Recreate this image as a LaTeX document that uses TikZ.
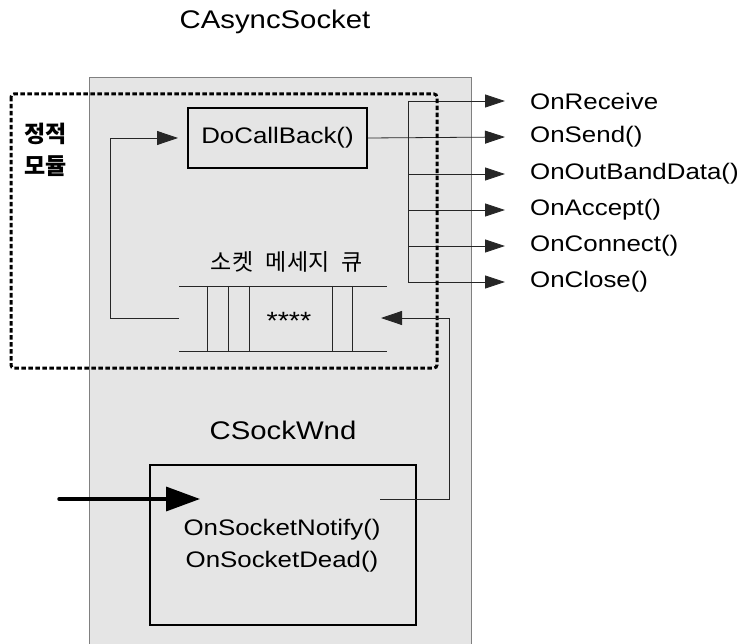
\documentclass[tikz,border=0pt]{standalone}
\usepackage{fontspec}
\setmainfont{Liberation Sans}[FakeStretch=1.15]
\newfontfamily\kofont{Noto Sans CJK KR}
\usetikzlibrary{arrows.meta}
\begin{document}
\begin{tikzpicture}[x=1pt,y=-1pt,
  thin line/.style={draw=black!85,line width=0.8pt},
  fan arrow/.style={thin line,-{Triangle[length=20pt,width=13pt]}},
  lbl/.style={font=\fontsize{22.5}{24}\selectfont,inner sep=0pt},
  big lbl/.style={font=\fontsize{25.5}{28}\selectfont,inner sep=0pt},
  kolbl/.style={font=\kofont\fontsize{23}{26}\selectfont,inner sep=0pt}]
\useasboundingbox (0,0) rectangle (744,644);
% panel
\path[fill=black!10,draw=black!50,line width=1pt] (89,650) -- (89,78) -- (471,78) -- (471,650);
\node[big lbl] (title) at (275,22) {CAsyncSocket};
% DoCallBack
\node[draw,line width=2pt,minimum width=179pt,minimum height=60pt,inner sep=0pt,font=\fontsize{22.5}{24}\selectfont] (dcb) at (277.5,138) {DoCallBack()};
% queue
\node[kolbl] (qlabel) at (287,262) {소켓\hspace{0.55em}메세지\hspace{0.55em}큐};
\coordinate (qL) at (179,318);
\coordinate (qR) at (381,318);
\draw[thin line] (179,286) -- (387,286) (179,351) -- (387,351);
\foreach \xx in {207,228,249,332,352} \draw[thin line] (\xx,286) -- (\xx,351);
\node[lbl,font=\fontsize{25}{26}\selectfont] (stars) at (289,321) {****};
% loop arrow into DoCallBack
\coordinate (dcbIn) at (178,138);
\draw[thin line,-{Triangle[length=21pt,width=14pt]}] (qL) -| (110,138) -- (dcbIn);
% fan
\coordinate (fanTop) at (408,101);
\coordinate (fanBot) at (408,282);
\draw[thin line] (fanTop) -- (fanBot);
\foreach \yy/\nm/\txt in {101/r/OnReceive,137/s/OnSend(),174/o/OnOutBandData(),210/a/OnAccept(),246/c/OnConnect(),282/cl/OnClose()}{
  \node[lbl,anchor=west] (\nm) at (530,\yy) {\txt};
  \coordinate (\nm tip) at (505,\yy);
}
\draw[fan arrow] (dcb.east) -- (stip);
\foreach \yy/\nm in {101/r,174/o,210/a,246/c,282/cl}
  \draw[fan arrow] (408,\yy) -- (\nm tip);
% dashed module box
\draw[line width=3pt,dash pattern=on 4.5pt off 2.5pt,rounded corners=3pt] (11,94) rectangle (437,368);
\node[font=\kofont\bfseries\fontsize{23}{32}\selectfont,inner sep=0pt,align=left,anchor=north west] (mod) at (24,123) {정적\\모듈};
% CSockWnd
\node[big lbl] (csw) at (283,430) {CSockWnd};
\node[draw,line width=2pt,minimum width=266pt,minimum height=160pt,inner sep=0pt] (cswbox) at (283,545) {};
\node[lbl,align=center,font=\fontsize{22.5}{32}\selectfont] (fns) at (282,546) {OnSocketNotify()\\OnSocketDead()};
\coordinate (notOut) at (380,499);
\draw[thin line,-{Triangle[length=21pt,width=14pt]}] (notOut) -- (449,499) |- (qR);
\coordinate (inStart) at (59,499);
\coordinate (inTip) at (200,499);
\draw[line width=3.5pt,line cap=round,-{Triangle[length=34pt,width=24pt]}] (inStart) -- (inTip);
\end{tikzpicture}
\end{document}
